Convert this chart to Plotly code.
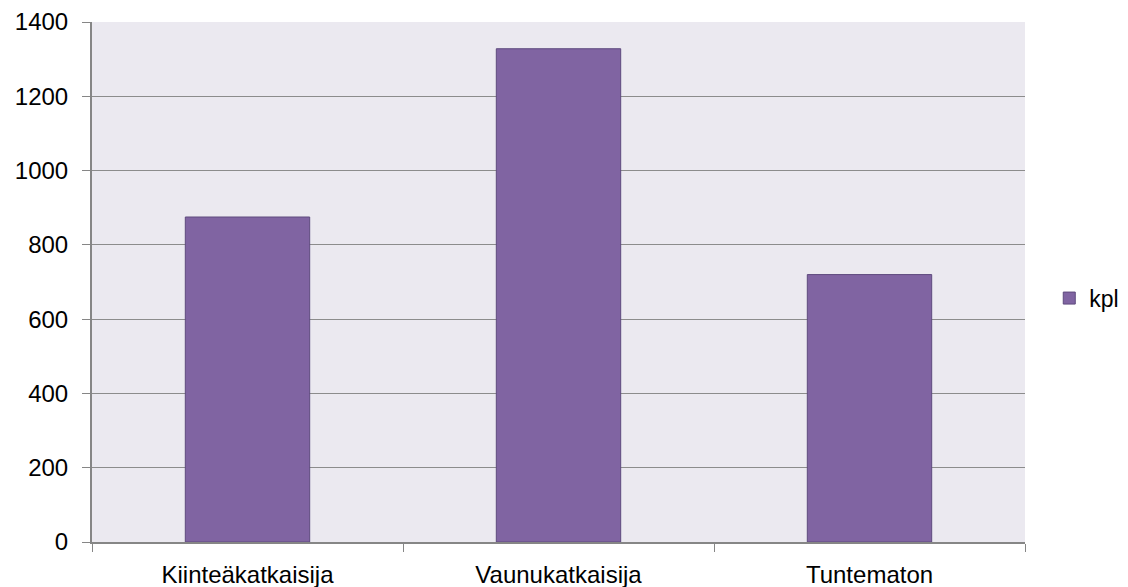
import plotly.graph_objects as go

categories = ["Kiinteäkatkaisija", "Vaunukatkaisija", "Tuntematon"]
values = [875, 1328, 720]
series_name = "kpl"
y_ticks = [0, 200, 400, 600, 800, 1000, 1200, 1400]

fig = go.Figure()
fig.add_trace(go.Bar(
    x=categories, y=values, name=series_name,
    marker=dict(color="#8064A2", line=dict(color="#5E4A7E", width=1)),
    width=0.4,
))

fig.update_layout(
    width=1128, height=587,
    margin=dict(l=92, r=103, t=22, b=45, autoexpand=False),
    paper_bgcolor="white",
    plot_bgcolor="#EBE9F0",
    font=dict(family="Liberation Sans, Arial, sans-serif", size=24, color="black"),
    showlegend=True,
    legend=dict(x=1.026, y=0.469, xanchor="left", yanchor="middle",
                font=dict(size=23), itemwidth=30, bgcolor="rgba(0,0,0,0)"),
    bargap=0.6,
)
fig.update_xaxes(
    type="category", tickson="boundaries", ticks="outside", ticklen=8,
    tickcolor="#868686", showline=True, linecolor="#868686", linewidth=2,
    showgrid=False, automargin=False, ticklabelstandoff=10,
)
fig.update_yaxes(
    range=[0, 1400], tickvals=y_ticks, ticks="outside", ticklen=8,
    tickcolor="#868686", showline=True, linecolor="#868686", linewidth=2,
    showgrid=True, gridcolor="#8C8C8C", gridwidth=1, zeroline=False,
    automargin=False, ticklabelstandoff=9,
)
fig.write_html("out.html")
